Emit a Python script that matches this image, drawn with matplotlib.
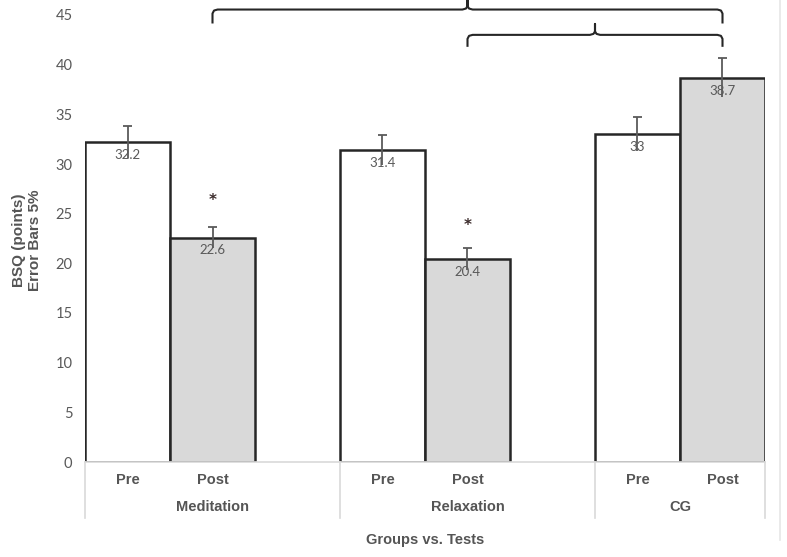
import numpy as np
import matplotlib
matplotlib.use('Agg')
from matplotlib import pyplot as plt
from matplotlib.transforms import blended_transform_factory

groups = ['Meditation', 'Relaxation', 'CG']
tests = ['Pre', 'Post']
pre_means = [32.2, 31.4, 33.0]
post_means = [22.6, 20.4, 38.7]
pre_err = [1.6, 1.5, 1.7]
post_err = [1.1, 1.1, 2.0]
value_labels_pre = ['32.2', '31.4', '33']
value_labels_post = ['22.6', '20.4', '38.7']
star_heights = [26.3, 23.8]   # '*' above Meditation/Relaxation post
yticks = [0, 5, 10, 15, 20, 25, 30, 35, 40, 45]

txt_gray = '#595959'
lbl_gray = '#555555'
edge = '#262626'

fig = plt.figure(figsize=(7.87, 5.57), dpi=100)
ax = fig.add_axes([85/787, 95/557, 680/787, 447/557])

# slot positions: each group has Pre, Post and one empty slot
pre_x = [0, 3, 6]
post_x = [1, 4, 7]

ax.bar(pre_x, pre_means, width=1.0, color='white', edgecolor=edge, linewidth=1.8, zorder=2)
ax.bar(post_x, post_means, width=1.0, color='#d9d9d9', edgecolor=edge, linewidth=1.8, zorder=2)

for xs, ms, es, labs in [(pre_x, pre_means, pre_err, value_labels_pre),
                         (post_x, post_means, post_err, value_labels_post)]:
    for x, m, e, lab in zip(xs, ms, es, labs):
        ax.text(x, m - 0.7, lab, ha='center', va='top', fontsize=9.5,
                color=txt_gray, family='Lato', zorder=3)
    ms = np.array(ms)
    es = np.array(es)
    ax.vlines(xs, ms - es, ms + es, color='#5a5a5a', lw=1.3, zorder=4)
    ax.hlines(ms + es, np.array(xs) - 0.05, np.array(xs) + 0.05, color='#5a5a5a', lw=1.3, zorder=4)

for x, h in zip(post_x[:2], star_heights):
    ax.text(x, h, '*', ha='center', va='center', fontsize=11, fontweight='bold',
            color='#3a2a2a')

# significance braces
def brace(x0, x1, y, drop, rise):
    xm = (x0 + x1) / 2
    r = 0.06
    xs = [x0, x0, x0 + r * 0.3, x0 + r, xm - r, xm - r * 0.3, xm, xm, xm, xm + r * 0.3, xm + r,
          x1 - r, x1 - r * 0.3, x1, x1]
    ys = [y - drop, y - 0.4, y - 0.1, y, y, y + 0.1, y + 0.35, y + rise, y + 0.35, y + 0.1, y,
          y, y - 0.1, y - 0.4, y - drop]
    ax.plot(xs, ys, color='#262626', lw=1.5, clip_on=False, solid_joinstyle='round')

brace(post_x[0], post_x[2], 45.55, 1.3, 1.1)
brace(post_x[1], post_x[2], 43.0, 1.1, 1.1)

ax.set_xlim(-0.5, 7.5)
ax.set_ylim(0, 45)
ax.set_yticks(yticks)
ax.set_yticklabels([str(t) for t in yticks], fontsize=10.5, color=txt_gray, family='Lato')
ax.tick_params(axis='y', length=0, pad=9)
ax.set_xticks([])
for s in ['top', 'right', 'left']:
    ax.spines[s].set_visible(False)
ax.spines['bottom'].set_color('#d9d9d9')
ax.spines['bottom'].set_linewidth(1.2)

trans = blended_transform_factory(ax.transData, ax.transAxes)
for x in pre_x:
    ax.text(x, -0.04, tests[0], transform=trans, ha='center', va='center',
            fontsize=10.5, fontweight='bold', color=lbl_gray, family='Liberation Sans')
for x in post_x:
    ax.text(x, -0.04, tests[1], transform=trans, ha='center', va='center',
            fontsize=10.5, fontweight='bold', color=lbl_gray, family='Liberation Sans')
group_centers = [1, 4, 6.5]
for x, g in zip(group_centers, groups):
    ax.text(x, -0.1, g, transform=trans, ha='center', va='center',
            fontsize=10.5, fontweight='bold', color=lbl_gray, family='Liberation Sans')
for x in [-0.5, 2.5, 5.5, 7.5]:
    ax.plot([x, x], [0, -0.125], transform=trans, color='#d9d9d9', lw=1.2, clip_on=False)

fig.text(425/787, 1 - 540/557, 'Groups vs. Tests', ha='center', va='center',
         fontsize=10.5, fontweight='bold', color=lbl_gray, family='Liberation Sans')
fig.text(27/787, 1 - 240/557, 'BSQ (points)\nError Bars 5%', ha='center', va='center',
         rotation=90, fontsize=11, fontweight='bold', color=lbl_gray,
         family='Liberation Sans', linespacing=1.1)

# light frame edge on the right
fig.add_artist(plt.Line2D([780/787, 780/787], [1 - 540/557, 1.0], color='#e6e6e6', lw=1.2))

fig.savefig('out.png', dpi=100)
